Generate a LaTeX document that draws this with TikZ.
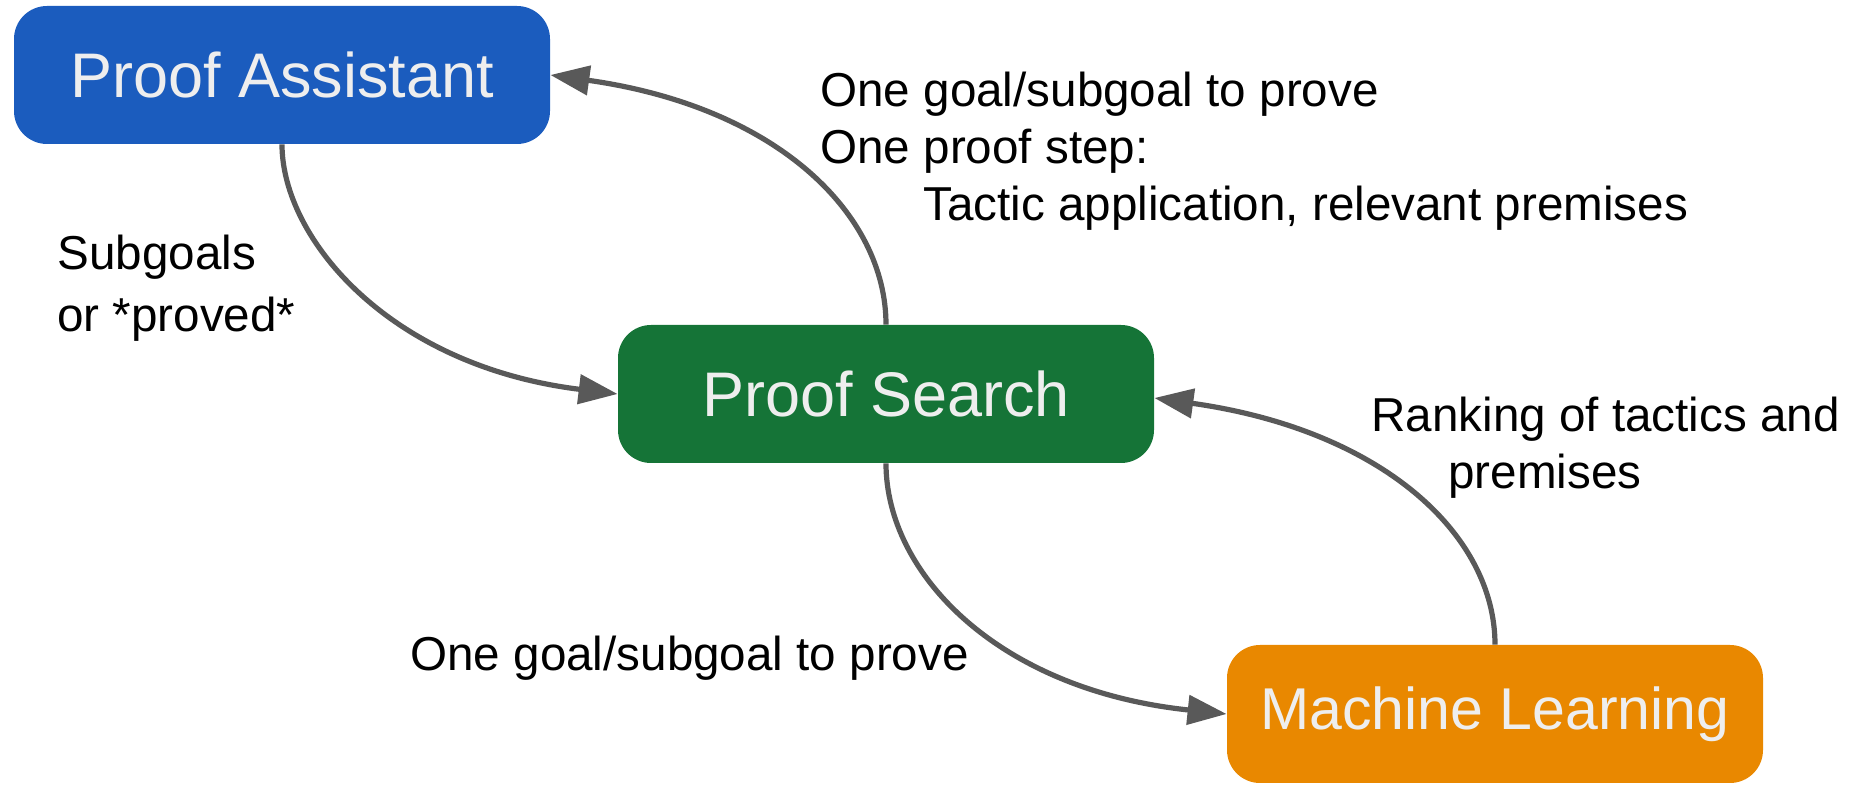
\documentclass[tikz,border=0pt]{standalone}
\usepackage{fontspec}
\setmainfont{Liberation Sans}
\usetikzlibrary{arrows.meta}
\definecolor{paBlue}{RGB}{27,92,190}
\definecolor{psGreen}{RGB}{21,116,55}
\definecolor{mlOrange}{RGB}{233,136,0}
\definecolor{boxText}{RGB}{238,238,238}
\definecolor{linkGray}{RGB}{89,89,89}
\begin{document}
\begin{tikzpicture}[x=0.5pt,y=-0.5pt,
  stage/.style={rectangle, rounded corners=16.5pt, minimum width=268pt,
    minimum height=69pt, inner sep=0pt, text=boxText,
    font=\fontsize{31.5}{37}\selectfont},
  link/.style={draw=linkGray, line width=2.6pt,
    -{Triangle[length=19.5pt,width=14.5pt]}},
  note/.style={anchor=north west, inner sep=0pt, align=left,
    font=\fontsize{23.8}{28.5}\selectfont}]
\useasboundingbox (0,0) rectangle (1849,785);

% the three stages
\node[stage, fill=paBlue] (pa) at (282,75) {Proof Assistant};
\node[stage, fill=psGreen] (ps) at (886,394) {Proof Search};
\node[stage, fill=mlOrange, font=\fontsize{29.5}{35}\selectfont] (ml) at (1495,714) {Machine Learning};

% the loops between them
\draw[link] (ps.north) to[out=90, in=-8, out distance=55pt, in distance=115pt] (pa.east);
\draw[link] (pa.south) to[out=-90, in=173, out distance=47pt, in distance=115pt] (ps.west);
\draw[link] (ps.south) to[out=-90, in=174, out distance=55pt, in distance=115pt] (ml.west);
\draw[link] (ml.north) to[out=90, in=-8, out distance=55pt, in distance=115pt] ([yshift=-2pt]ps.east);

% what travels along each loop
\node[note] (lblTop) at (820,72) {One goal/subgoal to prove\\One proof step:\\\hspace*{51.5pt}Tactic application, relevant premises};
\node[note, font=\fontsize{23.8}{31}\selectfont] (lblSub) at (57,235) {Subgoals\\or *proved*};
\node[note] (lblRank) at (1371,397) {Ranking of tactics and\\\hspace*{38.5pt}premises};
\node[note] (lblBottom) at (410,636) {One goal/subgoal to prove};
\end{tikzpicture}
\end{document}
